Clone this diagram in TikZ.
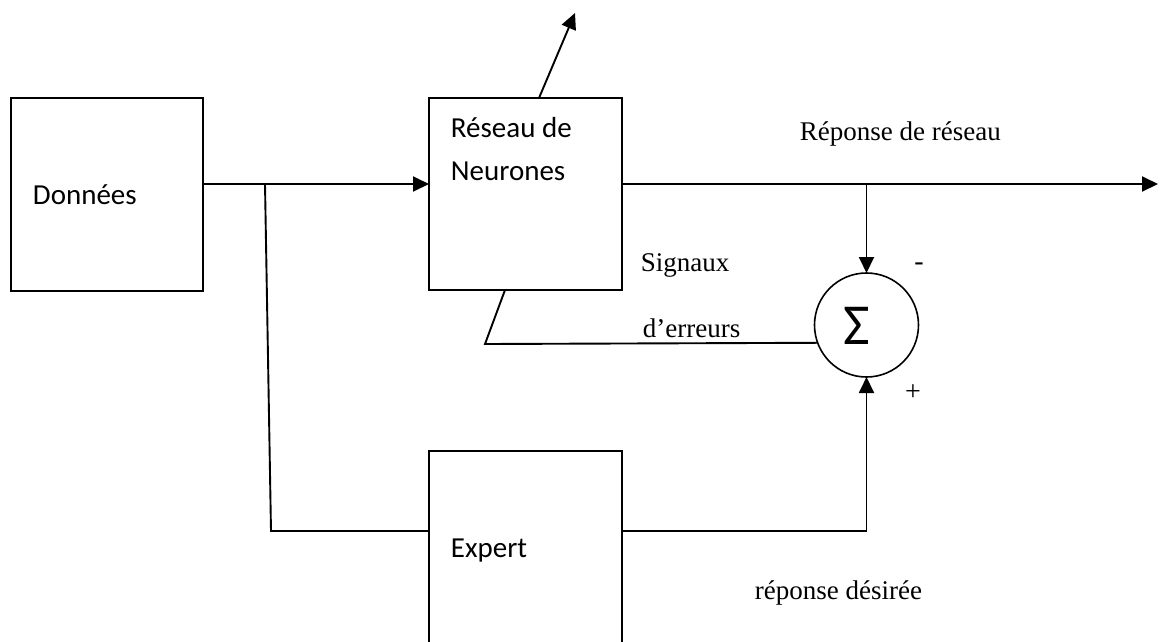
\documentclass[tikz,border=0pt]{standalone}
\usepackage{fontspec}
\setmainfont{Liberation Serif}
\newfontfamily\boxfont{Carlito}
\usetikzlibrary{arrows.meta}

\begin{document}
\begin{tikzpicture}[x=1pt,y=-1pt,
  line width=1.9pt,
  blockbox/.style={draw, rectangle, inner sep=0pt, outer sep=0pt},
  sumnode/.style={draw, circle, minimum size=104pt, inner sep=0pt, outer sep=0pt, line width=1.6pt},
  boxtext/.style={inner sep=0pt, anchor=base west, font=\boxfont\fontsize{29}{34}\selectfont},
  flowtext/.style={inner sep=0pt, anchor=base west, font=\fontsize{27}{32}\selectfont},
  signtext/.style={inner sep=0pt, font=\fontsize{28}{32}\selectfont},
  arr/.style={-{Triangle[length=16pt,width=15pt]}},
  wire/.style={line width=1.9pt}
]
\useasboundingbox (0,0) rectangle (1165,641);
\clip (0,0) rectangle (1165,641);

% blocks
\node[blockbox, minimum width=192pt, minimum height=193pt] (donnees) at (107,194.5) {};
\node[blockbox, minimum width=193pt, minimum height=192pt] (reseau) at (525.5,194) {};
\node[blockbox, minimum width=193pt, minimum height=249pt] (expert) at (525.5,575.5) {};
\node[sumnode] (sum) at (866.5,325) {};

% block labels
\node[boxtext] (tdon) at (32,204) {Données};
\node[boxtext] (tres1) at (450,137) {Réseau de};
\node[boxtext] (tres2) at (450,180) {Neurones};
\node[boxtext] (texp) at (450,557) {Expert};
\node[inner sep=0pt, font=\boxfont\fontsize{58}{58}\selectfont] (sigma) at (857,326) {Σ};

% signal labels
\node[flowtext] (lrep) at (799,140) {Réponse de réseau};
\node[flowtext] (lsig) at (640,271) {Signaux};
\node[flowtext] (lerr) at (642,337) {d’erreurs};
\node[flowtext] (ldes) at (754,599) {réponse désirée};
\node[signtext] (lminus) at (919,267) {-};
\node[signtext] (lplus) at (913,393) {+};

% junctions and free ends
\coordinate (split) at (265,184);
\coordinate (splitlow) at (271,531);
\coordinate (outtip) at (1158,184);
\coordinate (uptip) at (575,13);
\coordinate (ebend) at (485,344);

% data to network
\draw[wire, arr] ([yshift=10.5pt]donnees.east) -- ([yshift=10pt]reseau.west);
% data to expert
\draw[wire] (split) -- (splitlow) -- ([yshift=44.5pt]expert.west);
% network output
\draw[wire, arr] ([yshift=10pt]reseau.east) -- (outtip);
\draw[wire, arr] (sum.north |- outtip) -- (sum.north);
% upward output from the network
\draw[wire, arr] ([xshift=13.5pt]reseau.north) -- (uptip);
% desired response into the summing junction
\draw[wire, arr] ([yshift=44.5pt]expert.east) -| (sum.south);
% error signal back to the network
\draw[wire] (sum.200) -- (ebend) -- ([xshift=-20.5pt]reseau.south);
\end{tikzpicture}
\end{document}
